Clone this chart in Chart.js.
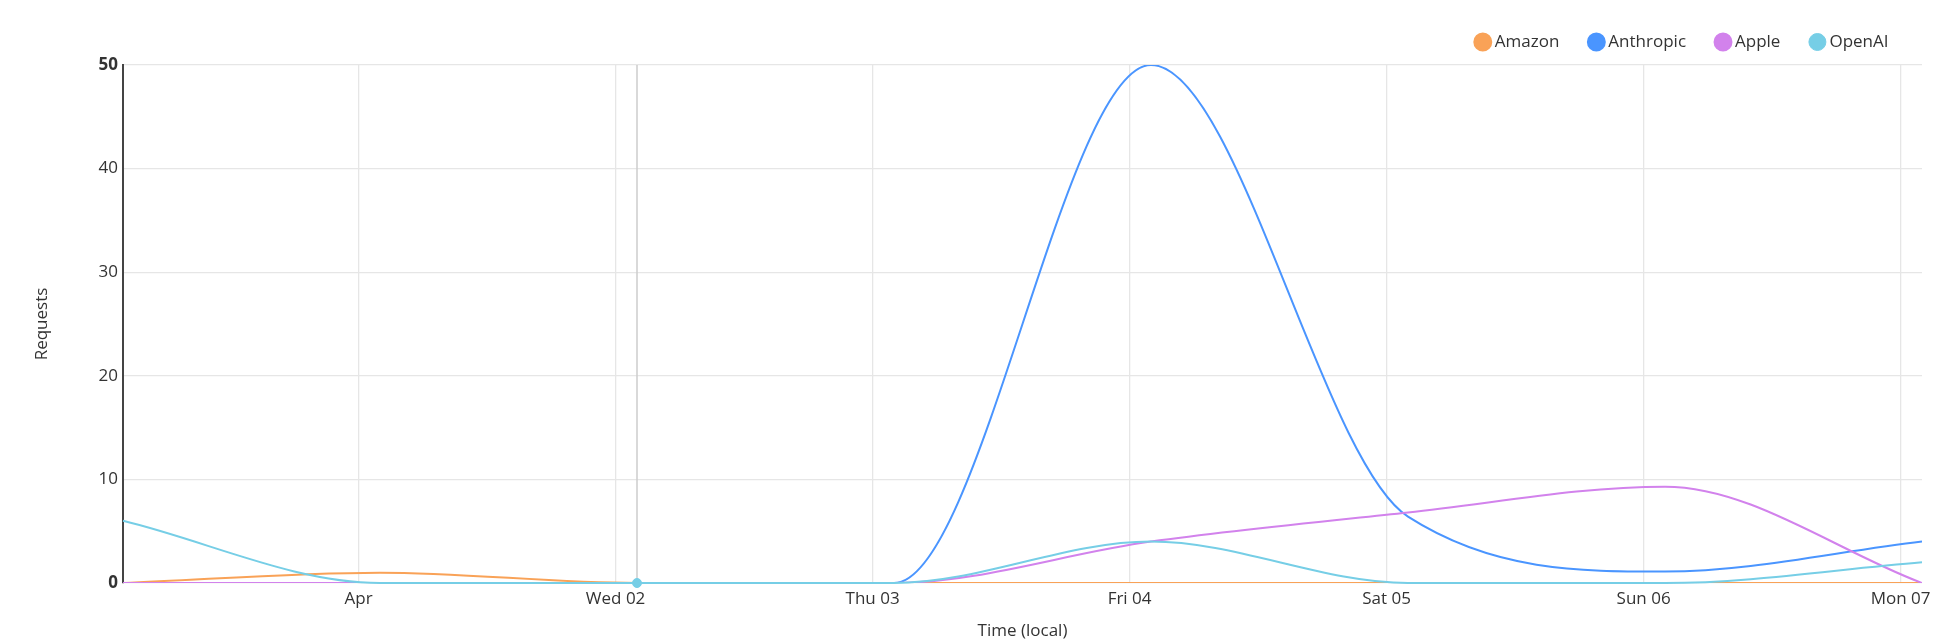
<!DOCTYPE html>
<html><head><meta charset="utf-8">
<style>html,body{margin:0;padding:0;background:#fff;overflow:hidden}
#wrap{width:1954px;height:641px;position:relative}</style>
<script src="https://cdn.jsdelivr.net/npm/chart.js@4.4.1/dist/chart.umd.min.js"></script>
</head><body><div id="wrap"><canvas id="c"></canvas></div>
<script>
// hours since Mon 31 Mar 02:00 (local)
const hours = [0, 24, 48, 72, 96, 120, 144, 168];
const amazon = [0, 1, 0, 0, 0, 0, 0, 0];
const anthropic = [0, 0, 0, 0, 50, 6.4, 1.1, 4];
const apple = [0, 0, 0, 0, 4, 6.8, 9.3, 0];
const openai = [6, 0, 0, 0, 4, 0, 0, 2];
const tickHours = [22, 46, 70, 94, 118, 142, 166];
const tickLabels = ['Apr', 'Wed 02', 'Thu 03', 'Fri 04', 'Sat 05', 'Sun 06', 'Mon 07'];
const hoverIndex = 2;

const colors = { amazon: '#f9a257', anthropic: '#4a95ff', apple: '#d282ec', openai: '#76cee6' };

Chart.defaults.font.family = "'Open Sans', 'Noto Sans', sans-serif";
Chart.defaults.font.size = 17;
Chart.defaults.color = '#333';

function pts(arr) { return hours.map((h, i) => ({ x: h, y: arr[i] })); }
function ds(label, arr, color, order, extra) {
  return Object.assign({
    label, data: pts(arr), borderColor: color, backgroundColor: color,
    borderWidth: 2, pointRadius: 0, cubicInterpolationMode: 'monotone', order, fill: false
  }, extra || {});
}

const legendGap = {
  id: 'legendGap',
  beforeLayout(chart) {
    const lg = chart.legend;
    if (lg && !lg._patched) {
      const orig = lg.fit;
      lg.fit = function () { orig.call(this); this.height += 4.5; };
      lg._patched = true;
    }
  }
};
const crosshair = {
  id: 'crosshair',
  beforeDatasetsDraw(chart) {
    const ctx = chart.ctx;
    const x = chart.scales.x.getPixelForValue(hours[hoverIndex]);
    const { top, bottom } = chart.chartArea;
    ctx.save();
    ctx.strokeStyle = '#cccccc';
    ctx.lineWidth = 1.5;
    ctx.beginPath(); ctx.moveTo(x, top); ctx.lineTo(x, bottom); ctx.stroke();
    ctx.restore();
  }
};

new Chart(document.getElementById('c'), {
  type: 'line',
  data: {
    datasets: [
      ds('Amazon', amazon, colors.amazon, 4),
      ds('Anthropic', anthropic, colors.anthropic, 3),
      ds('Apple', apple, colors.apple, 2),
      ds('OpenAI', openai, colors.openai, 1, {
        clip: 8,
        pointRadius: hours.map((_, i) => i === hoverIndex ? 4.5 : 0),
        pointBackgroundColor: colors.openai, pointBorderColor: colors.openai, pointBorderWidth: 1
      })
    ]
  },
  options: {
    responsive: true, maintainAspectRatio: false, animation: false, events: [],
    layout: { padding: { left: 0, right: 32, top: 0, bottom: 0 } },
    plugins: {
      legend: {
        position: 'top', align: 'end',
        labels: {
          usePointStyle: true, pointStyle: 'circle', boxWidth: 7, boxHeight: 12,
          padding: 33.5, color: '#333', font: { size: 17 },
          sort: (a, b) => a.datasetIndex - b.datasetIndex
        }
      },
      tooltip: { enabled: false }
    },
    scales: {
      x: {
        type: 'linear', min: hours[0], max: hours[hours.length - 1],
        afterBuildTicks(scale) { scale.ticks = tickHours.map(v => ({ value: v })); },
        afterFit(scale) { scale.height = 58; },
        ticks: {
          padding: 6, color: '#333', font: { size: 17 }, maxRotation: 0, autoSkip: false,
          callback: (v) => { const i = tickHours.indexOf(v); return i >= 0 ? tickLabels[i] : ''; }
        },
        grid: { color: '#e6e6e6', lineWidth: 1.3, drawTicks: false },
        border: { display: false },
        title: { display: true, text: 'Time (local)', color: '#333', font: { size: 17, lineHeight: 1.1 }, padding: { top: 0, bottom: 0 } }
      },
      y: {
        min: 0, max: 50,
        afterFit(scale) { scale.width = 123; },
        ticks: {
          stepSize: 10, padding: 5, color: '#333',
          font: (c) => ({ size: 17, weight: (c.tick && (c.tick.value === 0 || c.tick.value === 50)) ? 'bold' : 'normal' })
        },
        grid: { color: '#e6e6e6', lineWidth: 1.3, drawTicks: false },
        border: { display: true, color: '#444', width: 2 },
        title: { display: true, text: 'Requests', color: '#333', font: { size: 17 }, padding: { top: 32, bottom: 0 } }
      }
    }
  },
  plugins: [legendGap, crosshair]
});
</script>
</body></html>
